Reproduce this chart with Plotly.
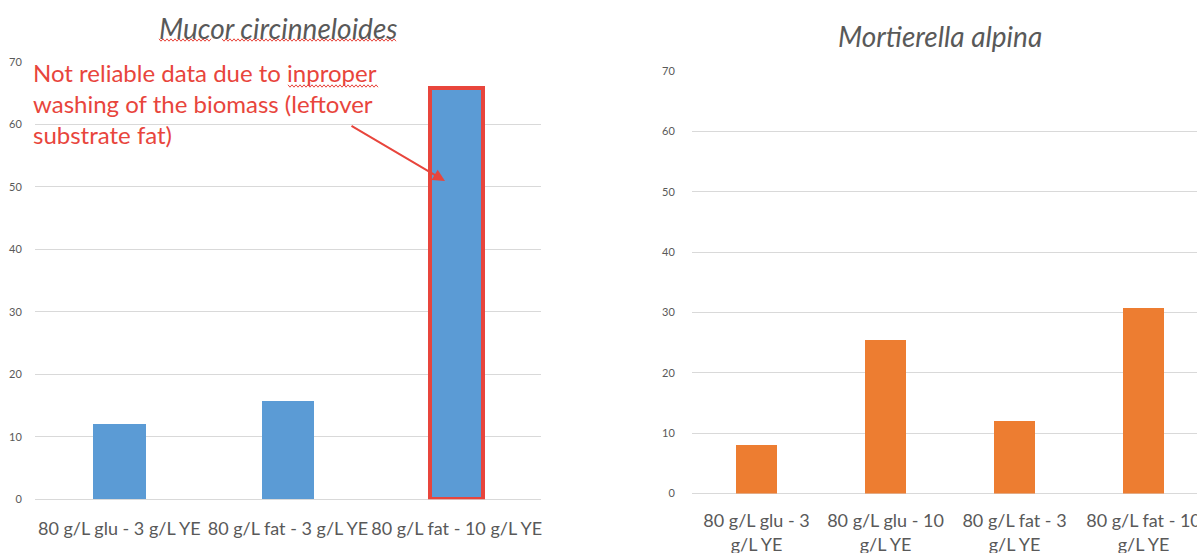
import plotly.graph_objects as go

# Mucor circinneloides
mucor_labels = ["80 g/L glu - 3 g/L YE", "80 g/L fat - 3 g/L YE", "80 g/L fat - 10 g/L YE"]
mucor_values = [12.0, 15.8, 65.8]
mucor_outline = ["rgba(0,0,0,0)", "rgba(0,0,0,0)", "#E8453C"]
mucor_outline_width = [0, 0, 4]

# Mortierella alpina
mortierella_labels = [
    "80 g/L glu - 3<br>g/L YE",
    "80 g/L glu - 10<br>g/L YE",
    "80 g/L fat - 3<br>g/L YE",
    "80 g/L fat - 10<br>g/L YE",
]
mortierella_values = [8.0, 25.4, 12.0, 30.7]

y_ticks = [0, 10, 20, 30, 40, 50, 60, 70]

W, H = 1197, 553
FONT = "Lato, 'Open Sans', sans-serif"
GRAY = "#595959"
GRID = "#D9D9D9"
RED = "#E8453C"


def px(x):
    return x / W


def py(y):
    return 1 - y / H


def wavy(x0, x1, y, amp=1.2, step=2.0):
    """Spell-check style zigzag underline as an SVG path in paper units."""
    pts = []
    x = x0
    up = True
    while x <= x1:
        pts.append((px(x), py(y - amp if up else y + amp)))
        up = not up
        x += step
    return "M " + " L ".join(f"{a:.5f},{b:.5f}" for a, b in pts)


fig = go.Figure()

fig.add_trace(go.Bar(
    x=mucor_labels, y=mucor_values,
    marker=dict(color="#5B9BD5", line=dict(color=mucor_outline, width=mucor_outline_width)),
    width=0.314, xaxis="x", yaxis="y", showlegend=False,
))

fig.add_trace(go.Bar(
    x=mortierella_labels, y=mortierella_values,
    marker=dict(color="#ED7D31", line=dict(width=0)),
    width=0.318, xaxis="x2", yaxis="y2", showlegend=False,
))

y_common = dict(
    range=[0, 70], tickvals=y_ticks, showgrid=True, gridcolor=GRID, gridwidth=1,
    zeroline=True, zerolinecolor=GRID, zerolinewidth=1, showline=False,
    tickfont=dict(family=FONT, size=11, color=GRAY),
    ticks="outside", tickcolor="rgba(0,0,0,0)", automargin=False, fixedrange=True,
)
x_common = dict(
    type="category", showgrid=False, zeroline=False, showline=False,
    tickfont=dict(family=FONT, size=18, color=GRAY),
    ticks="outside", tickcolor="rgba(0,0,0,0)", automargin=False, fixedrange=True,
)

fig.update_layout(
    width=W, height=H,
    margin=dict(l=0, r=0, t=0, b=0),
    paper_bgcolor="white", plot_bgcolor="white",
    bargap=0,
    xaxis=dict(domain=[px(35), px(541)], range=[-0.5, 2.5], anchor="y", ticklen=13, **x_common),
    yaxis=dict(domain=[py(499.3), py(62)], anchor="x", ticklen=10, **y_common),
    xaxis2=dict(domain=[px(692), 1.0], range=[-0.5, 3.5 - 11 / 129], anchor="y2", ticklen=11, **x_common),
    yaxis2=dict(domain=[py(493.5), py(71)], anchor="x2", ticklen=14, **y_common),
)

annotations = [
    dict(text="<i>Mucor circinneloides</i>", x=px(278), y=py(28), xref="paper", yref="paper",
         showarrow=False, xanchor="center", yanchor="middle",
         font=dict(family=FONT, size=28, color=GRAY)),
    dict(text="<i>Mortierella alpina</i>", x=px(940), y=py(36), xref="paper", yref="paper",
         showarrow=False, xanchor="center", yanchor="middle",
         font=dict(family=FONT, size=28, color=GRAY)),
    dict(text="Not reliable data due to inproper<br>washing of the biomass (leftover<br>substrate fat)",
         x=px(31), y=py(104), xref="paper", yref="paper", showarrow=False,
         xanchor="left", yanchor="middle", align="left",
         font=dict(family=FONT, size=24, color=RED)),
    dict(text="", x=px(445), y=py(181), xref="paper", yref="paper",
         showarrow=True, ax=-95, ay=-56, axref="pixel", ayref="pixel",
         arrowhead=2, arrowsize=1.2, arrowwidth=2, arrowcolor=RED),
]
fig.update_layout(annotations=annotations)

squiggles = [(159, 212, 40), (222, 397, 40), (288, 378, 86)]
fig.update_layout(shapes=[
    dict(type="path", path=wavy(a, b, y), xref="paper", yref="paper",
         line=dict(color=RED, width=1))
    for a, b, y in squiggles
])

fig.write_html("out.html")
